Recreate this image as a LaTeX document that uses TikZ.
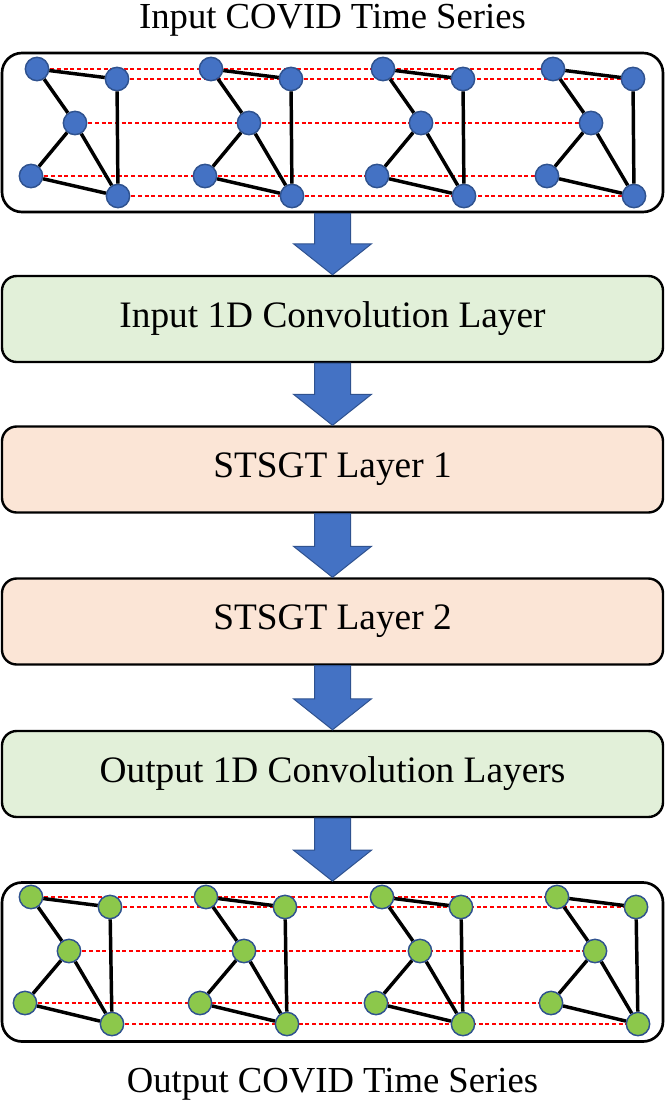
\documentclass[tikz,border=0pt]{standalone}
\usepackage{fontspec}
\setmainfont{Liberation Serif}
\usepackage{xcolor}
\usetikzlibrary{calc,backgrounds}

\definecolor{convgreen}{HTML}{E2F0D9}
\definecolor{layerpeach}{HTML}{FBE5D6}
\definecolor{nodeblue}{HTML}{4472C4}
\definecolor{rimblue}{HTML}{2F528F}
\definecolor{nodegreen}{HTML}{8CC84B}

\tikzset{
  panel/.style={draw=black, line width=2pt, rounded corners=15pt, minimum width=495.75pt, minimum height=119.25pt},
  layerbox/.style={draw=black, line width=1.8pt, rounded corners=11pt, minimum width=495.75pt, minimum height=64.5pt, font=\fontsize{28}{32}\selectfont},
  convbox/.style={layerbox, fill=convgreen},
  stsgtbox/.style={layerbox, fill=layerpeach},
  title/.style={font=\fontsize{27.5}{32}\selectfont, inner sep=0pt},
  vertex/.style={circle, inner sep=0pt, minimum size=17.5pt, draw=rimblue, line width=1.1pt},
  invertex/.style={vertex, fill=nodeblue},
  outvertex/.style={vertex, fill=nodegreen},
  edge/.style={draw=black, line width=2.6pt},
  timeline/.style={draw=red, line width=0.9pt, dash pattern=on 3pt off 2pt},
  fatarrow/.style={fill=nodeblue, draw=rimblue, line width=0.75pt}
}

% block arrow from the bottom of one node to the top of the next
\newcommand{\flowarrow}[2]{%
  \draw[fatarrow] ($(#1.south)+(-18,0)$) -- ($(#2.north)+(-18,-31)$) -- ($(#2.north)+(-39,-31)$) -- (#2.north)
    -- ($(#2.north)+(39,-31)$) -- ($(#2.north)+(18,-31)$) -- ($(#1.south)+(18,0)$) -- cycle;}

\begin{document}
\begin{tikzpicture}[x=0.75pt,y=0.75pt,yscale=-1,xscale=1]
\useasboundingbox (0,0) rectangle (666,1104);

% titles
\node[title, anchor=base] (intitle) at (332.5,28) {Input COVID Time Series};
\node[title, anchor=base] (outtitle) at (332.5,1092) {Output COVID Time Series};

% panels and layers
\node[panel] (inpanel) at (332.5,132.5) {};
\node[convbox] (conv1) at (332.5,319) {Input 1D Convolution Layer};
\node[stsgtbox] (stsgt1) at (332.5,469.5) {STSGT Layer 1};
\node[stsgtbox] (stsgt2) at (332.5,621.5) {STSGT Layer 2};
\node[convbox] (conv2) at (332.5,774) {Output 1D Convolution Layers};
\node[panel] (outpanel) at (332.5,962) {};

% input graphs
\foreach \gx [count=\i] in {37,211,383,553} {
  \node[invertex] (inA\i) at (\gx,69) {};
  \node[invertex] (inB\i) at (\gx+80,79) {};
  \node[invertex] (inC\i) at (\gx+38,123) {};
  \node[invertex] (inD\i) at (\gx-6,176) {};
  \node[invertex] (inE\i) at (\gx+81,196) {};
  \draw[edge] (inA\i) -- (inB\i) (inA\i) -- (inC\i) (inC\i) -- (inD\i)
    (inC\i) -- (inE\i) (inD\i) -- (inE\i) (inB\i) -- (inE\i);
}

% output graphs
\foreach \gx [count=\i] in {31,206,382,557} {
  \node[outvertex] (outA\i) at (\gx,897) {};
  \node[outvertex] (outB\i) at (\gx+79,907) {};
  \node[outvertex] (outC\i) at (\gx+38,951) {};
  \node[outvertex] (outD\i) at (\gx-6,1003) {};
  \node[outvertex] (outE\i) at (\gx+81,1024) {};
  \draw[edge] (outA\i) -- (outB\i) (outA\i) -- (outC\i) (outC\i) -- (outD\i)
    (outC\i) -- (outE\i) (outD\i) -- (outE\i) (outB\i) -- (outE\i);
}

% time links behind the vertices
\begin{scope}[on background layer]
\foreach \v in {A,B,C,D,E} {
  \draw[timeline] (in\v1.center) -- (in\v4.center);
  \draw[timeline] (out\v1.center) -- (out\v4.center);
}
\end{scope}

% flow arrows
\flowarrow{inpanel}{conv1}
\flowarrow{conv1}{stsgt1}
\flowarrow{stsgt1}{stsgt2}
\flowarrow{stsgt2}{conv2}
\flowarrow{conv2}{outpanel}

\end{tikzpicture}
\end{document}
